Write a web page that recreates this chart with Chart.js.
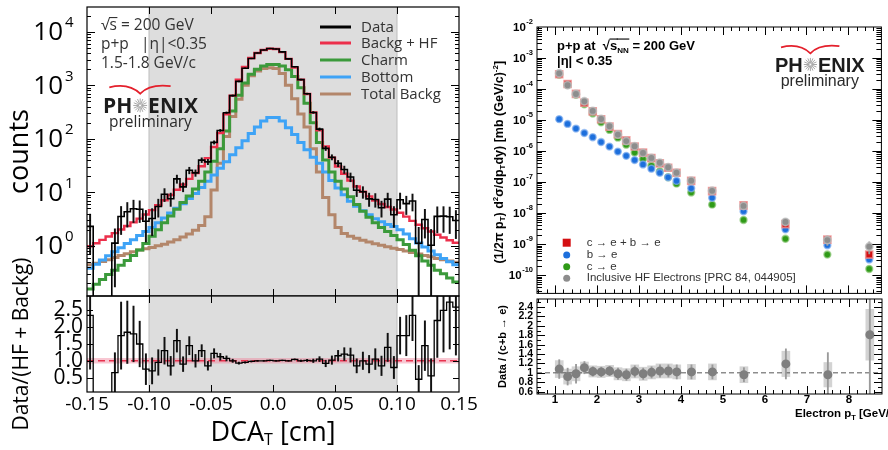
<!DOCTYPE html>
<html>
<head>
<meta charset="utf-8">
<title>Heavy flavour electrons, p+p 200 GeV</title>
<script src="https://cdn.jsdelivr.net/npm/chart.js@4.4.1/dist/chart.umd.min.js"></script>
<style>
  html, body { margin: 0; padding: 0; background: #ffffff; }
  body { position: relative; width: 888px; height: 450px; overflow: hidden; }
  .panel { position: absolute; }
</style>
</head>
<body>
<div class="panel" style="left:0;top:0;width:470px;height:300px"><canvas id="dcaMain"></canvas></div>
<div class="panel" style="left:0;top:240px;width:486px;height:210px"><canvas id="dcaRatio"></canvas></div>
<div class="panel" style="left:480px;top:0;width:408px;height:300px"><canvas id="ptMain"></canvas></div>
<div class="panel" style="left:480px;top:240px;width:408px;height:210px"><canvas id="ptRatio"></canvas></div>
<script>
const FONT_L = '"Open Sans", "DejaVu Sans", sans-serif';
const FONT_R = '"Liberation Sans", Arial, sans-serif';

// ---- left: DCA_T distribution, 1.5-1.8 GeV/c, 60 bins of 0.005 cm ----
const DCA_FIRST_EDGE = -0.15;
const DCA_BIN_WIDTH = 0.005;
const DCA_LABELS = ["Data", "Backg + HF", "Charm", "Bottom", "Total Backg"];

const DCA_DATA = [
  2.3, 0, 0, 0, 1.12, 3.52, 4.33, 4.91, 4.82, 2.87,
  3.24, 5.42, 9.19, 7.54, 17.8, 12.6, 25.7, 23, 39.9, 37,
  85.4, 143, 307, 640, 1179, 2082, 3160, 4015, 4565, 4868,
  4750, 4207, 3110, 2215, 1275, 694, 310, 151, 66.2, 45.2,
  34.7, 26.6, 19.3, 10.9, 10.2, 7.53, 7.34, 5.12, 7.43, 3.8,
  7.26, 6.13, 6.86, 1.11, 3.09, 1.02, 3.54, 3.58, 3.49, 2.96,
];
const DCA_DATA_ERR = [
  1.6, 0, 0, 0, 0.95, 1.9, 2.1, 2.2, 2.1, 1.7,
  1.7, 2.0, 2.5, 2.1, 3.1, 2.4, 3.6, 3.2, 4.1, 4.2,
  6.0, 6.5, 10, 18, 25, 33, 40, 45, 48, 50,
  49, 46, 40, 33, 25, 18, 12, 8, 6, 5,
  4.6, 4.2, 3.6, 2.6, 2.5, 2.1, 2.1, 1.7, 2.2, 1.6,
  2.4, 2.3, 2.4, 1.1, 1.7, 1.0, 1.8, 1.8, 1.8, 1.6,
];
const DCA_BACKG_HF = [
  0.98, 1.11, 1.29, 1.49, 1.72, 2.01, 2.34, 2.73, 3.21, 3.83,
  4.63, 5.7, 7.07, 8.87, 11.1, 13.95, 17.75, 22.95, 30.7, 43.5,
  70, 128, 287, 640, 1268, 2192, 3225, 4015, 4565, 4820,
  4750, 4165, 3110, 2130, 1275, 687, 310, 144, 72, 44.3,
  30.2, 22.2, 16.5, 12.8, 10.2, 8.37, 6.99, 6.02, 5.31, 4.75,
  4.15, 3.5, 2.92, 2.47, 2.13, 1.85, 1.61, 1.43, 1.27, 1.14,
];
const DCA_CHARM = [
  0.155, 0.19, 0.235, 0.29, 0.35, 0.43, 0.53, 0.66, 0.83, 1.1,
  1.5, 2.0, 2.7, 3.6, 4.8, 6.4, 8.5, 11.5, 16, 24,
  38, 65, 140, 330, 650, 1100, 1600, 2000, 2300, 2450,
  2450, 2300, 1950, 1450, 900, 460, 200, 85, 40, 24,
  16, 11.5, 8.2, 5.9, 4.4, 3.4, 2.7, 2.2, 1.85, 1.55,
  1.3, 1.05, 0.82, 0.65, 0.52, 0.43, 0.35, 0.3, 0.25, 0.21,
];
const DCA_BOTTOM = [
  0.38, 0.45, 0.54, 0.65, 0.77, 0.92, 1.1, 1.3, 1.55, 1.85,
  2.2, 2.7, 3.3, 4.1, 5.0, 6.1, 7.6, 9.5, 12.3, 16,
  21, 28, 37, 50, 68, 92, 125, 165, 215, 250,
  250, 215, 160, 120, 85, 62, 45, 35, 24, 16.5,
  12, 9, 6.8, 5.5, 4.5, 3.8, 3.2, 2.8, 2.5, 2.3,
  2.0, 1.65, 1.35, 1.12, 0.95, 0.8, 0.68, 0.58, 0.5, 0.44,
];
const DCA_TOTAL_BACKG = [
  0.44, 0.47, 0.51, 0.55, 0.6, 0.66, 0.71, 0.77, 0.83, 0.88,
  0.93, 1.0, 1.07, 1.17, 1.3, 1.45, 1.65, 1.95, 2.4, 3.5,
  11, 35, 110, 260, 550, 1000, 1500, 1850, 2050, 2120,
  2050, 1650, 1000, 560, 290, 165, 65, 24, 8, 3.8,
  2.2, 1.7, 1.5, 1.38, 1.27, 1.17, 1.09, 1.02, 0.96, 0.9,
  0.85, 0.8, 0.75, 0.7, 0.66, 0.62, 0.58, 0.55, 0.52, 0.49,
];
const DCA_RATIO = [
  2.35, 0, 0, 0, 0.65, 1.75, 1.85, 1.8, 1.5, 0.75,
  0.7, 0.95, 1.3, 0.85, 1.6, 0.9, 1.45, 1.0, 1.3, 0.85,
  1.22, 1.12, 1.07, 1.0, 0.93, 0.95, 0.98, 1.0, 1.0, 1.01,
  1.0, 1.01, 1.0, 1.04, 1.0, 1.01, 1.0, 1.05, 0.92, 1.02,
  1.15, 1.2, 1.17, 0.85, 1.0, 0.9, 1.05, 0.85, 1.4, 0.8,
  1.75, 1.75, 2.35, 0.45, 1.45, 0.55, 2.2, 2.5, 2.75, 2.6,
];
const DCA_RATIO_ERR = [
  1.6, 0, 0, 0, 0.59, 1.0, 0.93, 0.83, 0.68, 0.46,
  0.39, 0.38, 0.4, 0.28, 0.34, 0.22, 0.27, 0.19, 0.18, 0.13,
  0.14, 0.1, 0.076, 0.048, 0.031, 0.022, 0.017, 0.014, 0.012, 0.012,
  0.012, 0.012, 0.014, 0.017, 0.023, 0.034, 0.052, 0.073, 0.097, 0.125,
  0.16, 0.19, 0.21, 0.21, 0.26, 0.26, 0.31, 0.29, 0.42, 0.33,
  0.55, 0.6, 0.75, 0.41, 0.74, 0.51, 1.1, 1.24, 1.4, 1.43,
];
const DCA_X_TICKS = [-0.15, -0.10, -0.05, 0, 0.05, 0.10, 0.15];
const DCA_X_LABELS = ["-0.15", "-0.10", "-0.05", "0.0", "0.05", "0.10", "0.15"];
const COUNT_DECADES = [0, 1, 2, 3, 4];
const COUNT_RANGE = [0.115, 29000];
const DCA_RATIO_TICKS = [0.5, 1.0, 1.5, 2.0, 2.5];
const DCA_RATIO_RANGE = [0.07, 2.93];
const SIGNAL_WINDOW = [-0.1, 0.1];
const RATIO_BAND = [0.92, 1.08];
const LOG_FLOOR = 1e-3;

// ---- right: invariant cross section vs electron pT ----
const PT_CENTERS = [1.1, 1.3, 1.5, 1.7, 1.9, 2.1, 2.3, 2.5, 2.7, 2.9, 3.1, 3.3, 3.5, 3.7, 3.9, 4.25, 4.75, 5.5, 6.5, 7.5, 8.5];
const XSEC_CB = [3.0e-4, 1.45e-4, 7.0e-5, 3.6e-5, 1.9e-5, 1.06e-5, 6.1e-6, 3.5e-6, 2.2e-6, 1.4e-6, 8.9e-7, 5.9e-7, 4.0e-7, 2.9e-7, 2.0e-7, 1.09e-7, 5.1e-8, 1.77e-8, 4.4e-9, 1.4e-9, 4.6e-10];
const XSEC_B = [1.07e-5, 7.5e-6, 5.3e-6, 3.8e-6, 2.8e-6, 1.95e-6, 1.39e-6, 9.6e-7, 7.0e-7, 5.1e-7, 3.7e-7, 2.7e-7, 2.0e-7, 1.42e-7, 1.09e-7, 6.3e-8, 3.1e-8, 1.15e-8, 3.0e-9, 9.2e-10, 3.2e-10];
const XSEC_C = [2.9e-4, 1.38e-4, 6.5e-5, 3.2e-5, 1.63e-5, 8.5e-6, 4.8e-6, 2.7e-6, 1.6e-6, 8.9e-7, 5.5e-7, 3.4e-7, 2.2e-7, 1.43e-7, 8.9e-8, 4.6e-8, 1.87e-8, 6.0e-9, 1.48e-9, 4.6e-10, 1.58e-10];
const XSEC_INCL = [3.2e-4, 1.33e-4, 6.9e-5, 4.0e-5, 1.96e-5, 1.08e-5, 6.3e-6, 3.4e-6, 2.1e-6, 1.44e-6, 8.7e-7, 6.0e-7, 4.2e-7, 3.0e-7, 2.0e-7, 1.11e-7, 5.2e-8, 1.7e-8, 5.2e-9, 1.35e-9, 8.3e-10];
const XSEC_INCL_ERR = [0, 0, 0, 0, 0, 0, 0, 0, 0, 0, 0, 0, 0, 0, 0, 0, 0, 0, 1.2e-9, 4.5e-10, 3.5e-10];
const PT_RATIO = [1.08, 0.92, 0.98, 1.11, 1.03, 1.02, 1.04, 0.98, 0.96, 1.03, 0.98, 1.01, 1.04, 1.04, 1.02, 1.02, 1.02, 0.96, 1.19, 0.96, 1.81];
const PT_RATIO_SYS = [0.18, 0.16, 0.15, 0.12, 0.12, 0.12, 0.12, 0.13, 0.13, 0.14, 0.14, 0.14, 0.15, 0.15, 0.15, 0.16, 0.17, 0.17, 0.27, 0.26, 0.54];
const PT_RATIO_STAT = [0.2, 0.18, 0.2, 0.13, 0.1, 0.1, 0.1, 0.12, 0.12, 0.12, 0.12, 0.12, 0.13, 0.13, 0.15, 0.15, 0.15, 0.15, 0.32, 0.47, 1.6];
const PT_LABELS = ["c \u2192 e + b \u2192 e", "b \u2192 e", "c \u2192 e", "Inclusive HF Electrons [PRC 84, 044905]"];
const PT_TICKS = [1, 2, 3, 4, 5, 6, 7, 8];
const PT_RANGE = [0.57, 8.79];
const XSEC_DECADES = [-10, -9, -8, -7, -6, -5, -4, -3, -2];
const XSEC_RANGE = [2.57e-11, 1e-2];
const PT_RATIO_TICKS = [0.6, 0.8, 1.0, 1.2, 1.4, 1.6, 1.8, 2.0, 2.2, 2.4];
const PT_RATIO_RANGE = [0.55, 2.57];

Chart.defaults.font.family = FONT_L;
Chart.defaults.color = "#000";

// ---------- helpers ----------
function binLeft(i) { return DCA_FIRST_EDGE + i * DCA_BIN_WIDTH; }

function histLine(label, values, color, width, order, floor) {
  const pts = values.map((v, i) => ({ x: binLeft(i), y: floor && v <= 0 ? floor : v }));
  pts.push({ x: binLeft(values.length), y: pts[pts.length - 1].y });
  return {
    type: "line", label, order, data: pts,
    borderColor: color, backgroundColor: color, borderWidth: width,
    pointRadius: 0, stepped: "before", fill: false,
  };
}

function binErrorBars(label, values, errs, floor, color, order) {
  const data = [];
  values.forEach((v, i) => {
    if (!(errs[i] > 0)) return;
    data.push({ x: binLeft(i + 0.5), y: [Math.max(v - errs[i], floor), v + errs[i]] });
  });
  return { type: "bar", label, order, data, backgroundColor: color, borderWidth: 0, barThickness: 1.3, grouped: false };
}

function ptPoints(label, ys, style, radius, fill, edge, order) {
  return {
    type: "line", label, order, showLine: false,
    data: PT_CENTERS.map((x, i) => ({ x, y: ys[i] })),
    pointStyle: style, pointRadius: radius,
    pointBackgroundColor: fill, pointBorderColor: edge, pointBorderWidth: 1.6,
    backgroundColor: fill, borderColor: edge,
  };
}

function ptBars(label, ys, halves, color, thickness, order) {
  const data = [];
  PT_CENTERS.forEach((x, i) => {
    if (halves[i] > 0) data.push({ x, y: [ys[i] - halves[i], ys[i] + halves[i]] });
  });
  return { type: "bar", label, order, data, backgroundColor: color, borderWidth: 0, barThickness: thickness, grouped: false };
}

function logTicks(min, max, majorLen, minorLen) {
  const out = [];
  for (let e = Math.floor(Math.log10(min)); e <= Math.ceil(Math.log10(max)); e++) {
    for (let m = 1; m <= 9; m++) {
      const v = m * Math.pow(10, e);
      if (v >= min && v <= max) out.push({ v, len: m === 1 ? majorLen : minorLen });
    }
  }
  return out;
}

function drawTicks(ctx, area, scale, items, sides) {
  ctx.save();
  ctx.strokeStyle = "#000";
  ctx.lineWidth = 1;
  ctx.beginPath();
  items.forEach(({ v, len }) => {
    const p = Math.round(scale.getPixelForValue(v)) + 0.5;
    if (scale.isHorizontal()) {
      if (p < area.left + 1 || p > area.right - 1) return;
      if (sides.includes("top")) { ctx.moveTo(p, area.top); ctx.lineTo(p, area.top + len); }
      if (sides.includes("bottom")) { ctx.moveTo(p, area.bottom); ctx.lineTo(p, area.bottom - len); }
    } else {
      if (p < area.top + 1 || p > area.bottom - 1) return;
      if (sides.includes("left")) { ctx.moveTo(area.left, p); ctx.lineTo(area.left + len, p); }
      if (sides.includes("right")) { ctx.moveTo(area.right, p); ctx.lineTo(area.right - len, p); }
    }
  });
  ctx.stroke();
  ctx.restore();
}

function drawFrame(ctx, a, width) {
  ctx.save();
  ctx.strokeStyle = "#000";
  ctx.lineWidth = width;
  ctx.strokeRect(a.left, a.top, a.right - a.left, a.bottom - a.top);
  ctx.restore();
}

function drawWindow(chart) {
  const { ctx, chartArea: a, scales: { x } } = chart;
  const x0 = x.getPixelForValue(SIGNAL_WINDOW[0]);
  const x1 = x.getPixelForValue(SIGNAL_WINDOW[1]);
  ctx.save();
  ctx.fillStyle = "#dddddd";
  ctx.fillRect(x0, a.top, x1 - x0, a.bottom - a.top);
  ctx.strokeStyle = "#bdbdbd";
  ctx.lineWidth = 1;
  ctx.beginPath();
  ctx.moveTo(x0, a.top); ctx.lineTo(x0, a.bottom);
  ctx.moveTo(x1, a.top); ctx.lineTo(x1, a.bottom);
  ctx.stroke();
  ctx.restore();
}

// parts: {t, s, dy, over}
function richText(ctx, parts, x, y, opt) {
  const weight = opt.weight || "normal";
  const widths = parts.map((p) => {
    ctx.font = `${weight} ${p.s}px ${opt.family}`;
    return ctx.measureText(p.t).width;
  });
  const total = widths.reduce((s, w) => s + w, 0);
  let cx = opt.align === "center" ? x - total / 2 : opt.align === "right" ? x - total : x;
  ctx.fillStyle = opt.color || "#000";
  ctx.textAlign = "left";
  ctx.textBaseline = opt.baseline || "alphabetic";
  parts.forEach((p, i) => {
    ctx.font = `${weight} ${p.s}px ${opt.family}`;
    ctx.fillText(p.t, cx, y + (p.dy || 0));
    if (p.over !== undefined) ctx.fillRect(cx - 0.5, y + p.over, widths[i] + 1, 1.1);
    cx += widths[i];
  });
  return total;
}

function drawPhenix(ctx, o) {
  const { x, base, size, family, prelim } = o;
  ctx.save();
  ctx.textAlign = "left";
  ctx.textBaseline = "alphabetic";
  ctx.fillStyle = "#1c1c1c";
  ctx.font = `bold ${size}px ${family}`;
  ctx.fillText("PH", x, base);
  const r = size * 0.33;
  const cx = x + ctx.measureText("PH").width + r + 1;
  const cy = base - size * 0.36;
  ctx.strokeStyle = "#a8a8a8";
  ctx.lineWidth = 1;
  ctx.beginPath();
  for (let k = 0; k < 16; k++) {
    const ang = (k * Math.PI) / 8;
    ctx.moveTo(cx + Math.cos(ang) * 1.2, cy + Math.sin(ang) * 1.2);
    ctx.lineTo(cx + Math.cos(ang) * r, cy + Math.sin(ang) * r);
  }
  ctx.stroke();
  const xE = cx + r + 1;
  ctx.fillText("ENIX", xE, base);
  const xEnd = xE + ctx.measureText("ENIX").width;
  ctx.strokeStyle = "#e4202c";
  ctx.lineWidth = 1.8;
  ctx.beginPath();
  ctx.moveTo(x + size * 0.3, base - size * 1.22);
  ctx.quadraticCurveTo(cx - size * 0.55, base - size * 1.45, cx, base - size * 0.92);
  ctx.quadraticCurveTo(cx + size * 0.45, base - size * 1.4, cx + size * 1.45, base - size * 1.28);
  ctx.stroke();
  ctx.fillStyle = "#2a2a2a";
  ctx.font = `${prelim}px ${family}`;
  ctx.textAlign = "center";
  ctx.fillText("preliminary", (x + xEnd) / 2, base + prelim * 0.92);
  ctx.restore();
}

const noInteraction = { legend: { display: false }, tooltip: { enabled: false } };
const noGrid = { display: false, drawTicks: false };

// ---------- left main: counts vs DCA ----------
const dcaMainDecor = {
  id: "dcaMainDecor",
  beforeDatasetsDraw(chart) { drawWindow(chart); },
  afterDatasetsDraw(chart) {
    const { ctx, chartArea: a, scales: { x, y } } = chart;
    drawFrame(ctx, a, 1.2);
    drawTicks(ctx, a, x, DCA_X_TICKS.map((v) => ({ v, len: 7 })), ["top", "bottom"]);
    drawTicks(ctx, a, y, logTicks(y.min, y.max, 8, 4), ["left", "right"]);
  },
  afterDraw(chart) {
    const { ctx, scales: { y } } = chart;
    ctx.save();
    COUNT_DECADES.forEach((e) => {
      const py = y.getPixelForValue(Math.pow(10, e));
      ctx.fillStyle = "#000";
      ctx.textBaseline = "middle";
      ctx.textAlign = "right";
      ctx.font = `26px ${FONT_L}`;
      ctx.fillText("10", 63, py + 1);
      ctx.textAlign = "left";
      ctx.font = `15px ${FONT_L}`;
      ctx.fillText(String(e), 65, py - 9);
    });
    const tc = { family: FONT_L, color: "#333" };
    richText(ctx, [{ t: "\u221A", s: 15.5 }, { t: "s", s: 15.5, over: -12.5 }, { t: " = 200 GeV", s: 15.5 }], 101, 29.5, tc);
    richText(ctx, [{ t: "p+p   |\u03B7|<0.35", s: 15.5 }], 101, 48.5, tc);
    richText(ctx, [{ t: "1.5-1.8 GeV/c", s: 15.5 }], 101, 67.5, tc);
    drawPhenix(ctx, { x: 103, base: 113, size: 21, family: FONT_L, prelim: 15.5 });
    const rows = [27, 43, 60, 77, 94];
    DCA_LABELS.forEach((lab, i) => {
      const ds = chart.data.datasets.find((d) => d.label === lab);
      ctx.strokeStyle = ds.borderColor;
      ctx.lineWidth = 3;
      ctx.beginPath();
      ctx.moveTo(320, rows[i]);
      ctx.lineTo(351, rows[i]);
      ctx.stroke();
      ctx.fillStyle = "#333";
      ctx.font = `15px ${FONT_L}`;
      ctx.textAlign = "left";
      ctx.textBaseline = "middle";
      ctx.fillText(lab, 361, rows[i] + 1);
    });
    ctx.restore();
  },
};

new Chart(document.getElementById("dcaMain"), {
  type: "line",
  data: {
    datasets: [
      histLine(DCA_LABELS[0], DCA_DATA, "#000000", 1.6, 0, LOG_FLOOR),
      binErrorBars("Data errors", DCA_DATA, DCA_DATA_ERR, LOG_FLOOR, "#111111", 1),
      histLine(DCA_LABELS[1], DCA_BACKG_HF, "#ec2f4b", 2.4, 2),
      histLine(DCA_LABELS[2], DCA_CHARM, "#3b9a3b", 3, 3),
      histLine(DCA_LABELS[3], DCA_BOTTOM, "#3ea3f6", 3, 4),
      histLine(DCA_LABELS[4], DCA_TOTAL_BACKG, "#b3866a", 3, 5),
    ],
  },
  options: {
    responsive: true, maintainAspectRatio: false, animation: false, events: [],
    layout: { padding: { left: 0, top: 7, right: 11, bottom: 4 } },
    plugins: noInteraction,
    scales: {
      x: { type: "linear", display: false, offset: false, min: DCA_X_TICKS[0], max: DCA_X_TICKS[DCA_X_TICKS.length - 1] },
      y: {
        type: "logarithmic", min: COUNT_RANGE[0], max: COUNT_RANGE[1],
        grid: noGrid, border: { display: false }, ticks: { display: false },
        title: { display: true, text: "counts", color: "#000", font: { family: FONT_L, size: 27 }, padding: { top: 4, bottom: 0 } },
        afterFit: (s) => { s.width = 87; },
      },
    },
  },
  plugins: [dcaMainDecor],
});

// ---------- left ratio ----------
const dcaRatioDecor = {
  id: "dcaRatioDecor",
  beforeDatasetsDraw(chart) { drawWindow(chart); },
  afterDatasetsDraw(chart) {
    const { ctx, chartArea: a, scales: { x, y } } = chart;
    drawFrame(ctx, a, 1.2);
    drawTicks(ctx, a, x, DCA_X_TICKS.map((v) => ({ v, len: 7 })), ["top", "bottom"]);
    drawTicks(ctx, a, y, DCA_RATIO_TICKS.map((v) => ({ v, len: 6 })), ["left", "right"]);
  },
  afterDraw(chart) {
    const { ctx, chartArea: a } = chart;
    ctx.save();
    richText(ctx, [{ t: "DCA", s: 27 }, { t: "T", s: 16, dy: 7 }, { t: " [cm]", s: 27 }], (a.left + a.right) / 2, 193,
      { family: FONT_L, align: "center", baseline: "middle" });
    ctx.restore();
  },
};

new Chart(document.getElementById("dcaRatio"), {
  type: "line",
  data: {
    datasets: [
      histLine("Data/(HF + Backg)", DCA_RATIO, "#000000", 1.3, 0),
      binErrorBars("Ratio errors", DCA_RATIO, DCA_RATIO_ERR, -1, "#111111", 1),
      {
        type: "line", label: "unity", order: 2,
        data: [{ x: DCA_X_TICKS[0], y: 1 }, { x: DCA_X_TICKS[DCA_X_TICKS.length - 1], y: 1 }],
        borderColor: "#e8334f", borderWidth: 1.5, borderDash: [7, 4], pointRadius: 0, fill: false,
      },
      {
        type: "line", label: "band", order: 3,
        data: [{ x: DCA_X_TICKS[0], y: RATIO_BAND[1] }, { x: DCA_X_TICKS[DCA_X_TICKS.length - 1], y: RATIO_BAND[1] }],
        borderWidth: 0, pointRadius: 0, backgroundColor: "rgba(240,130,155,0.45)",
        fill: { value: RATIO_BAND[0] },
      },
    ],
  },
  options: {
    responsive: true, maintainAspectRatio: false, animation: false, events: [],
    layout: { padding: { left: 0, top: 56, right: 27, bottom: 0 } },
    plugins: noInteraction,
    scales: {
      x: {
        type: "linear", offset: false, min: DCA_X_TICKS[0], max: DCA_X_TICKS[DCA_X_TICKS.length - 1],
        grid: noGrid, border: { display: false },
        afterBuildTicks: (s) => { s.ticks = DCA_X_TICKS.map((v) => ({ value: v })); },
        ticks: { autoSkip: false, maxRotation: 0, padding: 1, color: "#000", font: { family: FONT_L, size: 19 },
          callback: (v, i) => DCA_X_LABELS[i] },
        afterFit: (s) => { s.height = 58; },
      },
      y: {
        type: "linear", min: DCA_RATIO_RANGE[0], max: DCA_RATIO_RANGE[1],
        grid: noGrid, border: { display: false },
        afterBuildTicks: (s) => { s.ticks = DCA_RATIO_TICKS.map((v) => ({ value: v })); },
        ticks: { autoSkip: false, padding: 4, color: "#000", font: { family: FONT_L, size: 21 }, callback: (v) => v.toFixed(1) },
        title: { display: true, text: "Data/(HF + Backg)", color: "#000", font: { family: FONT_L, size: 21 }, padding: { top: 9, bottom: 0 } },
        afterFit: (s) => { s.width = 87; },
      },
    },
  },
  plugins: [dcaRatioDecor],
});

// ---------- right main: cross section ----------
function ptXTicks() {
  const out = [];
  for (let k = 3; k <= 44; k++) out.push({ v: k * 0.2, len: k % 5 === 0 ? 8 : 4 });
  return out;
}

const ptMainDecor = {
  id: "ptMainDecor",
  afterDatasetsDraw(chart) {
    const { ctx, chartArea: a, scales: { x, y } } = chart;
    drawFrame(ctx, a, 1);
    drawTicks(ctx, a, x, ptXTicks(), ["top", "bottom"]);
    drawTicks(ctx, a, y, logTicks(y.min, y.max, 9, 5), ["left", "right"]);
  },
  afterDraw(chart) {
    const { ctx, chartArea: a, scales: { y } } = chart;
    ctx.save();
    ctx.fillStyle = "#000";
    XSEC_DECADES.forEach((e) => {
      const py = y.getPixelForValue(Math.pow(10, e));
      ctx.font = `bold 7.5px ${FONT_R}`;
      const ew = ctx.measureText(String(e)).width;
      ctx.textBaseline = "middle";
      ctx.textAlign = "left";
      ctx.fillText(String(e), a.left - 4 - ew, py - 5);
      ctx.font = `bold 11.5px ${FONT_R}`;
      ctx.textAlign = "right";
      ctx.fillText("10", a.left - 4.5 - ew, py + 1);
    });
    // y title
    ctx.save();
    ctx.translate(20, (a.top + a.bottom) / 2 + 2);
    ctx.rotate(-Math.PI / 2);
    richText(ctx, [
      { t: "(1/2\u03C0 p", s: 12.5 }, { t: "T", s: 8, dy: 3 }, { t: ") d", s: 12.5 }, { t: "2", s: 8, dy: -4.5 },
      { t: "\u03C3/dp", s: 12.5 }, { t: "T", s: 8, dy: 3 }, { t: "dy) [mb (GeV/c)", s: 12.5 }, { t: "-2", s: 8, dy: -4.5 },
      { t: "]", s: 12.5 },
    ], 0, 0, { family: FONT_R, weight: "bold", align: "center", baseline: "middle" });
    ctx.restore();
    const tb = { family: FONT_R, weight: "bold" };
    richText(ctx, [{ t: "p+p at  ", s: 13 }, { t: "\u221A", s: 13 }, { t: "s", s: 13, over: -11 },
      { t: "NN", s: 8, dy: 3, over: -11 }, { t: " = 200 GeV", s: 13 }], 77, 49.5, tb);
    richText(ctx, [{ t: "|\u03B7| < 0.35", s: 13 }], 77, 64.5, tb);
    drawPhenix(ctx, { x: 295, base: 71.7, size: 20, family: FONT_R, prelim: 16 });
    // legend
    const rows = [242.7, 255, 266.7, 278.3];
    PT_LABELS.forEach((lab, i) => {
      const ds = chart.data.datasets.find((d) => d.label === lab);
      ctx.fillStyle = ds.pointBackgroundColor;
      if (ds.pointStyle === "rect") ctx.fillRect(86.7 - 4, rows[i] - 4, 8, 8);
      else { ctx.beginPath(); ctx.arc(86.7, rows[i], 3.5, 0, Math.PI * 2); ctx.fill(); }
      ctx.fillStyle = "#333";
      ctx.font = `11.5px ${FONT_R}`;
      ctx.textAlign = "left";
      ctx.textBaseline = "middle";
      ctx.fillText(lab, 106.7, rows[i]);
    });
    ctx.restore();
  },
};

new Chart(document.getElementById("ptMain"), {
  type: "line",
  data: {
    datasets: [
      ptPoints(PT_LABELS[3], XSEC_INCL, "circle", 3.7, "#8d8d8d", "rgba(190,190,190,0.75)", 0),
      ptBars("Inclusive errors", XSEC_INCL, XSEC_INCL_ERR, "#9a9a9a", 1.2, 1),
      ptPoints(PT_LABELS[0], XSEC_CB, "rect", 5, "#d40f12", "rgba(238,140,140,0.8)", 2),
      ptPoints(PT_LABELS[1], XSEC_B, "circle", 3.4, "#1d6fdc", "rgba(130,175,240,0.7)", 3),
      ptPoints(PT_LABELS[2], XSEC_C, "circle", 3.4, "#2f9a17", "rgba(140,200,120,0.7)", 4),
    ],
  },
  options: {
    responsive: true, maintainAspectRatio: false, animation: false, events: [],
    layout: { padding: { left: 57, top: 27, right: 6, bottom: 1 } },
    plugins: noInteraction,
    scales: {
      x: { type: "linear", display: false, offset: false, min: PT_RANGE[0], max: PT_RANGE[1] },
      y: { type: "logarithmic", display: false, min: XSEC_RANGE[0], max: XSEC_RANGE[1] },
    },
  },
  plugins: [ptMainDecor],
});

// ---------- right ratio ----------
const ptRatioDecor = {
  id: "ptRatioDecor",
  afterDatasetsDraw(chart) {
    const { ctx, chartArea: a, scales: { x, y } } = chart;
    drawFrame(ctx, a, 1);
    drawTicks(ctx, a, x, ptXTicks(), ["top", "bottom"]);
    const yt = [];
    for (let k = 6; k <= 25; k++) yt.push({ v: k * 0.1, len: k % 2 === 0 ? 8 : 4 });
    drawTicks(ctx, a, y, yt, ["left", "right"]);
  },
  afterDraw(chart) {
    const { ctx } = chart;
    ctx.save();
    richText(ctx, [{ t: "Electron p", s: 11.5 }, { t: "T", s: 7.5, dy: 3.5 }, { t: " [GeV/c]", s: 11.5 }], 315, 174,
      { family: FONT_R, weight: "bold", baseline: "middle" });
    ctx.restore();
  },
};

new Chart(document.getElementById("ptRatio"), {
  type: "line",
  data: {
    datasets: [
      ptPoints("Data / (c+b \u2192 e)", PT_RATIO, "circle", 3.7, "#7f7f7f", "#7f7f7f", 0),
      ptBars("ratio stat", PT_RATIO, PT_RATIO_STAT, "#9a9a9a", 1.2, 1),
      {
        type: "line", label: "unity", order: 2,
        data: [{ x: PT_RANGE[0], y: 1 }, { x: PT_RANGE[1], y: 1 }],
        borderColor: "#555555", borderWidth: 1, borderDash: [5, 3], pointRadius: 0, fill: false,
      },
      ptBars("ratio sys", PT_RATIO, PT_RATIO_SYS, "#d3d3d3", 8, 3),
    ],
  },
  options: {
    responsive: true, maintainAspectRatio: false, animation: false, events: [],
    layout: { padding: { left: 0, top: 59, right: 6, bottom: 0 } },
    plugins: noInteraction,
    scales: {
      x: {
        type: "linear", offset: false, min: PT_RANGE[0], max: PT_RANGE[1],
        grid: noGrid, border: { display: false },
        afterBuildTicks: (s) => { s.ticks = PT_TICKS.map((v) => ({ value: v })); },
        ticks: { autoSkip: false, maxRotation: 0, padding: -1, color: "#000", font: { family: FONT_R, size: 11.5, weight: "bold" },
          callback: (v) => String(v) },
        afterFit: (s) => { s.height = 56; },
      },
      y: {
        type: "linear", min: PT_RATIO_RANGE[0], max: PT_RATIO_RANGE[1],
        grid: noGrid, border: { display: false },
        afterBuildTicks: (s) => { s.ticks = PT_RATIO_TICKS.map((v) => ({ value: v })); },
        ticks: { autoSkip: false, padding: 4, color: "#000", font: { family: FONT_R, size: 10.5, weight: "bold" },
          callback: (v) => String(Math.round(v * 10) / 10) },
        title: { display: true, text: "Data / (c+b \u2192 e)", color: "#000", font: { family: FONT_R, size: 11, weight: "bold" },
          padding: { top: 16, bottom: 0 } },
        afterFit: (s) => { s.width = 57; },
      },
    },
  },
  plugins: [ptRatioDecor],
});
</script>
</body>
</html>
